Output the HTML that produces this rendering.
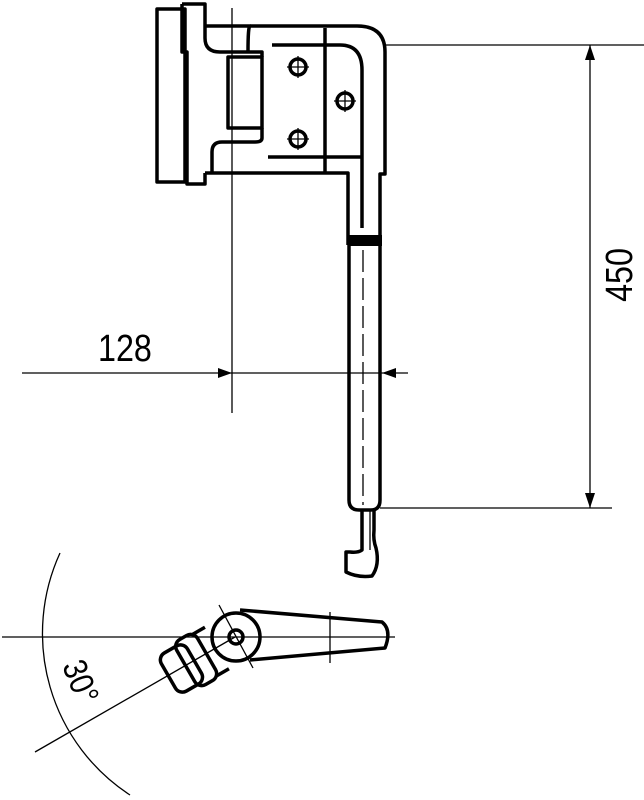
<!DOCTYPE html>
<html><head><style>html,body{margin:0;padding:0;background:#fff}svg{display:block}</style></head>
<body>
<svg width="644" height="800" viewBox="0 0 644 800" xmlns="http://www.w3.org/2000/svg" fill="none" stroke="#000">
<g stroke-width="1.3">
<line x1="232" y1="8" x2="232" y2="413"/>
<line x1="22" y1="373" x2="408" y2="373"/>
<line x1="385" y1="45" x2="644" y2="45"/>
<line x1="380" y1="508" x2="612" y2="508"/>
<line x1="590" y1="45" x2="590" y2="508"/>
<line x1="2" y1="637" x2="395" y2="637"/>
<path d="M60 553 A193 193 0 0 0 130 795"/>
<line x1="235" y1="637" x2="35" y2="752"/>
<line x1="330" y1="612" x2="330" y2="663"/>
<line x1="219" y1="605" x2="253" y2="668"/>
</g>
<g fill="#000" stroke="none">
<polygon points="232,373 218,368 218,378"/>
<polygon points="382,373 396,368 396,378"/>
<polygon points="590,45 585,60 595,60"/>
<polygon points="590,508 585,493 595,493"/>
</g>
<text x="125" y="361" font-family="Liberation Sans, sans-serif" font-size="38" text-anchor="middle" fill="#000" stroke="none" transform="scale(0.85,1) translate(22,0)">128</text>
<text transform="translate(632,275) rotate(-90) scale(0.85,1)" font-family="Liberation Sans, sans-serif" font-size="38" text-anchor="middle" fill="#000" stroke="none">450</text>
<text transform="translate(70,686) rotate(68) scale(0.85,1)" font-family="Liberation Sans, sans-serif" font-size="34" text-anchor="middle" fill="#000" stroke="none">30°</text>
<g stroke-width="3.5" stroke-linejoin="round">
<rect x="157" y="9" width="28" height="173"/>
<path d="M182 4 H205 V38 Q205 52 220 52 H262 V57"/>
<path d="M182 4 V52 H187 V184 H205 V173"/>
<rect x="228" y="57" width="34" height="71"/>
<path d="M262 128 V138 Q262 142 255 142 H222 Q212 142 212 152 V173"/>
<path d="M205 26 H250 Q248 26 248 52"/>
<path d="M250 26 H357 Q385 26 385 52 V174 H380 V245"/>
<path d="M205 173 H348 V245"/>
<path d="M272 45 H340 Q362 45 362 70 V228"/>
<line x1="268" y1="157" x2="362" y2="157"/>
<line x1="325" y1="28" x2="325" y2="173"/>
<circle cx="298" cy="67" r="8"/>
<circle cx="345" cy="101" r="8"/>
<circle cx="298" cy="139" r="8"/>
<path d="M349 245 V500 Q349 510 359 510 H371 Q380 510 380 500 V245"/>
<path d="M362 510 V550 Q358 553 350 552 H346 V572 Q358 578 372 576 Q380 565 376 548 Q373 540 374 530 V510"/>
</g>
<rect x="348" y="235" width="34" height="11" fill="#000" stroke="none"/>
<g stroke-width="1.3">
<line x1="363" y1="250" x2="363" y2="505" stroke-dasharray="22 6"/>
<line x1="370" y1="510" x2="370" y2="550"/>
<path d="M287 67H309M298 56V78M334 101H356M345 90V112M287 139H309M298 128V150"/>
</g>
<g stroke-width="3.5" stroke-linejoin="round">
<path d="M240 610 L382 622 Q392 630 385 648 L250 660"/>
<circle cx="236" cy="637" r="24"/>
<circle cx="236" cy="637" r="7"/>
<g transform="translate(236,637) rotate(-30)">
<rect x="-78" y="-22" width="30" height="44" rx="8"/>
<rect x="-58" y="-26" width="24" height="52" rx="8"/>
<path d="M-36 -24 L-22 -24 M-36 24 L-22 24"/>
</g>
</g>
</svg>
</body></html>
